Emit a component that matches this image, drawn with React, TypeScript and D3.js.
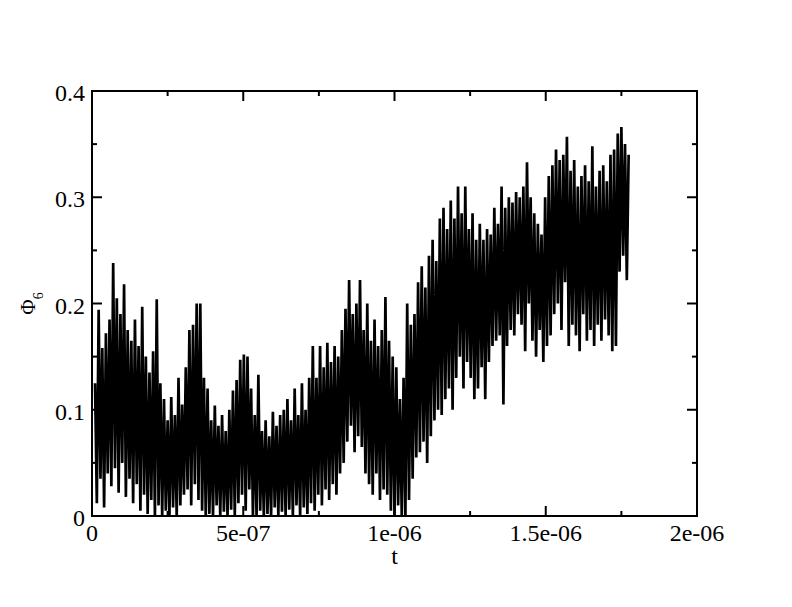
import React from "react";
import * as d3 from "d3";

// time axis sampling (seconds)
const t0 = 1.0e-8;
const dt = 6.0e-9;

// Phi_6 order parameter (one value per sample)
const phi6: number[] = [
  0.125, 0.012, 0.194, 0.035, 0.158, 0.008, 0.172, 0.04, 0.185, 0.028,
  0.238, 0.045, 0.205, 0.022, 0.19, 0.05, 0.218, 0.018, 0.175, 0.035,
  0.165, 0.012, 0.185, 0.03, 0.16, 0.005, 0.197, 0.02, 0.15, 0.002,
  0.135, 0.015, 0.155, 0.0, 0.204, 0.01, 0.125, 0.0, 0.11, 0.005,
  0.09, 0.0, 0.112, 0.008, 0.095, 0.0, 0.13, 0.01, 0.105, 0.02,
  0.14, 0.025, 0.175, 0.01, 0.18, 0.03, 0.2, 0.015, 0.2, 0.005,
  0.13, 0.0, 0.12, 0.002, 0.09, 0.0, 0.104, 0.01, 0.085, 0.0,
  0.095, 0.004, 0.08, 0.0, 0.1, 0.006, 0.118, 0.0, 0.128, 0.012,
  0.147, 0.02, 0.152, 0.005, 0.15, 0.025, 0.12, 0.0, 0.095, 0.0,
  0.133, 0.005, 0.08, 0.0, 0.09, 0.002, 0.075, 0.0, 0.098, 0.008,
  0.085, 0.0, 0.095, 0.004, 0.1, 0.0, 0.11, 0.006, 0.09, 0.0,
  0.12, 0.01, 0.095, 0.0, 0.125, 0.008, 0.1, 0.002, 0.13, 0.012,
  0.16, 0.005, 0.13, 0.02, 0.16, 0.01, 0.14, 0.025, 0.163, 0.015,
  0.145, 0.03, 0.16, 0.02, 0.15, 0.04, 0.175, 0.05, 0.195, 0.07,
  0.222, 0.085, 0.19, 0.06, 0.2, 0.075, 0.222, 0.065, 0.175, 0.04,
  0.2, 0.03, 0.165, 0.02, 0.185, 0.04, 0.16, 0.015, 0.175, 0.025,
  0.206, 0.02, 0.165, 0.005, 0.15, 0.0, 0.14, 0.01, 0.11, 0.0,
  0.13, 0.0, 0.2, 0.015, 0.18, 0.035, 0.19, 0.055, 0.22, 0.06,
  0.235, 0.07, 0.215, 0.05, 0.245, 0.075, 0.26, 0.09, 0.24, 0.1,
  0.28, 0.095, 0.29, 0.11, 0.27, 0.12, 0.297, 0.1, 0.28, 0.13,
  0.31, 0.15, 0.285, 0.12, 0.31, 0.145, 0.27, 0.13, 0.285, 0.11,
  0.26, 0.12, 0.275, 0.14, 0.26, 0.11, 0.27, 0.145, 0.265, 0.16,
  0.29, 0.165, 0.275, 0.17, 0.31, 0.105, 0.29, 0.16, 0.3, 0.175,
  0.295, 0.17, 0.305, 0.19, 0.3, 0.18, 0.31, 0.155, 0.333, 0.2,
  0.3, 0.165, 0.285, 0.15, 0.275, 0.175, 0.265, 0.145, 0.3, 0.16,
  0.32, 0.17, 0.33, 0.19, 0.345, 0.2, 0.335, 0.175, 0.34, 0.22,
  0.357, 0.16, 0.325, 0.18, 0.335, 0.17, 0.31, 0.155, 0.32, 0.19,
  0.33, 0.165, 0.315, 0.175, 0.348, 0.16, 0.31, 0.18, 0.325, 0.165,
  0.33, 0.185, 0.315, 0.17, 0.34, 0.155, 0.345, 0.16, 0.36, 0.23,
  0.366, 0.245, 0.35, 0.222, 0.34,
];

const xMajorTicks = [0, 5e-7, 1e-6, 1.5e-6, 2e-6];
const xTickLabels = ["0", "5e-07", "1e-06", "1.5e-06", "2e-06"];
const xMinorTicks = [2.5e-7, 7.5e-7, 1.25e-6, 1.75e-6];
const yMajorTicks = [0, 0.1, 0.2, 0.3, 0.4];
const yTickLabels = ["0", "0.1", "0.2", "0.3", "0.4"];
const yMinorTicks = [0.05, 0.15, 0.25, 0.35];

const W = 792;
const H = 607;
const left = 92;
const right = 697;
const top = 91;
const bottom = 516;
const FONT = "'Liberation Serif', 'Times New Roman', Times, 'DejaVu Serif', 'Noto Serif', FreeSerif, serif";

export default function App() {
  const x = d3.scaleLinear().domain([0, 2e-6]).range([left, right]);
  const y = d3.scaleLinear().domain([0, 0.4]).range([bottom, top]);
  const pts: [number, number][] = phi6.map((v, i) => [t0 + i * dt, v]);
  const line = d3
    .line<[number, number]>()
    .x((d) => x(d[0]))
    .y((d) => y(d[1]));

  const major = 10;
  const minor = 5;
  const txt = { fontFamily: FONT };

  return (
    <div style={{ position: "absolute", left: 0, top: 0 }}>
      <svg width={W} height={H} style={{ display: "block", background: "#fff" }}>
        <rect x={0} y={0} width={W} height={H} fill="#fff" />
        <path d={line(pts) || ""} fill="none" stroke="#000" strokeWidth={2.7} strokeLinejoin="bevel" />
        {/* frame */}
        <rect x={left} y={top} width={right - left} height={bottom - top} fill="none" stroke="#000" strokeWidth={2} />
        {/* x ticks */}
        {xMajorTicks.map((v, i) => (
          <g key={"xM" + i}>
            <line x1={x(v)} x2={x(v)} y1={bottom} y2={bottom - major} stroke="#000" strokeWidth={2} />
            <line x1={x(v)} x2={x(v)} y1={top} y2={top + major} stroke="#000" strokeWidth={2} />
            <text x={x(v)} y={bottom + 25} textAnchor="middle" style={txt} fontSize={24} fill="#000">
              {xTickLabels[i]}
            </text>
          </g>
        ))}
        {xMinorTicks.map((v, i) => (
          <g key={"xm" + i}>
            <line x1={x(v)} x2={x(v)} y1={bottom} y2={bottom - minor} stroke="#000" strokeWidth={2} />
            <line x1={x(v)} x2={x(v)} y1={top} y2={top + minor} stroke="#000" strokeWidth={2} />
          </g>
        ))}
        {yMajorTicks.map((v, i) => (
          <g key={"yM" + i}>
            <line x1={left} x2={left + major} y1={y(v)} y2={y(v)} stroke="#000" strokeWidth={2} />
            <line x1={right} x2={right - major} y1={y(v)} y2={y(v)} stroke="#000" strokeWidth={2} />
            <text x={left - 7} y={y(v) + 10} textAnchor="end" style={txt} fontSize={24} fill="#000">
              {yTickLabels[i]}
            </text>
          </g>
        ))}
        {yMinorTicks.map((v, i) => (
          <g key={"ym" + i}>
            <line x1={left} x2={left + minor} y1={y(v)} y2={y(v)} stroke="#000" strokeWidth={2} />
            <line x1={right} x2={right - minor} y1={y(v)} y2={y(v)} stroke="#000" strokeWidth={2} />
          </g>
        ))}
        {/* axis titles */}
        <text x={(left + right) / 2} y={564} textAnchor="middle" style={txt} fontSize={24} fill="#000">
          t
        </text>
        <text transform={`translate(35,${(top + bottom) / 2}) rotate(-90)`} textAnchor="middle" style={txt} fontSize={21} fill="#000">
          Φ<tspan dy={8} fontSize={14}>6</tspan>
        </text>
      </svg>
    </div>
  );
}
